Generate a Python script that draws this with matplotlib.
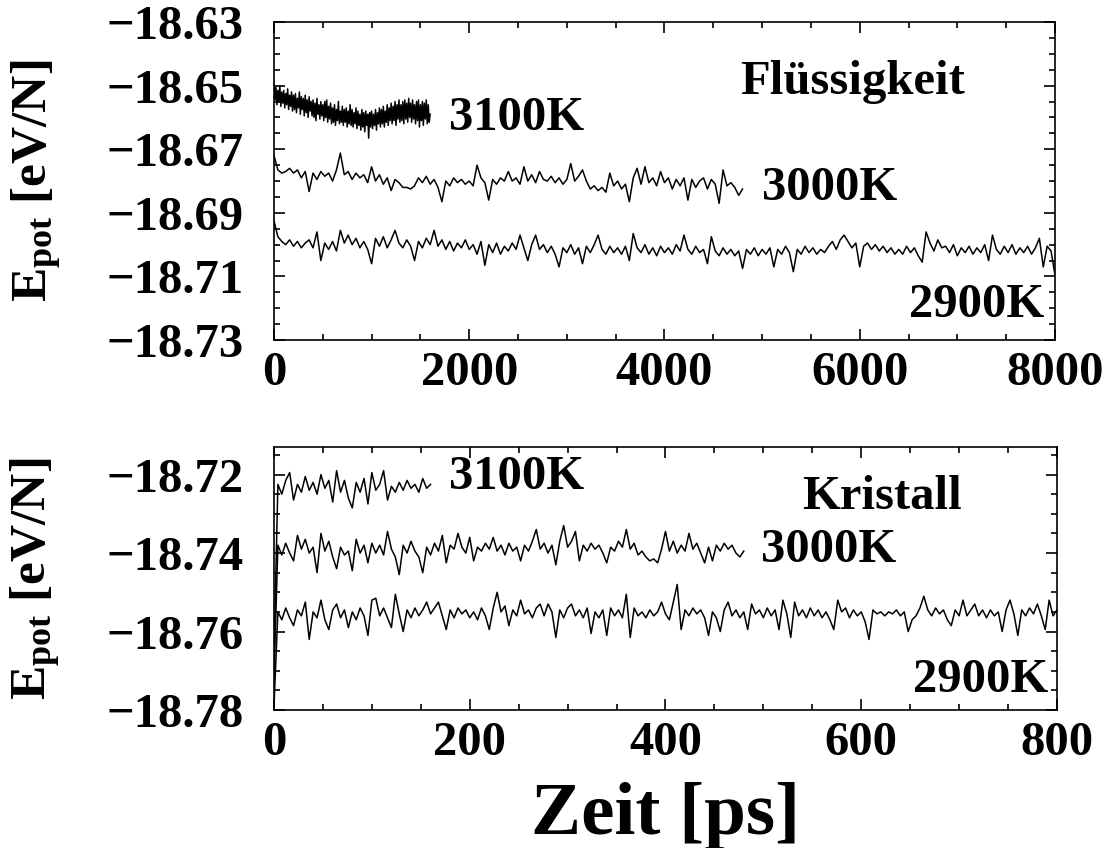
import numpy as np
import matplotlib.pyplot as plt
from matplotlib.ticker import MultipleLocator

# potential energy per atom vs. simulation time, liquid (top) and crystal (bottom)

# liquid, 3100K: sampled every 10 ps
liq_3100 = [
    -18.6490, -18.6545, -18.6505, -18.6560, -18.6515, -18.6550, -18.6500, -18.6565, -18.6520, -18.6555,
    -18.6515, -18.6570, -18.6525, -18.6560, -18.6510, -18.6575, -18.6530, -18.6565, -18.6520, -18.6580,
    -18.6530, -18.6575, -18.6525, -18.6585, -18.6540, -18.6570, -18.6520, -18.6590, -18.6535, -18.6575,
    -18.6540, -18.6595, -18.6530, -18.6585, -18.6545, -18.6600, -18.6535, -18.6580, -18.6550, -18.6595,
    -18.6545, -18.6600, -18.6555, -18.6610, -18.6540, -18.6590, -18.6560, -18.6605, -18.6550, -18.6595,
    -18.6560, -18.6610, -18.6550, -18.6600, -18.6545, -18.6615, -18.6565, -18.6605, -18.6555, -18.6620,
    -18.6570, -18.6615, -18.6560, -18.6625, -18.6575, -18.6610, -18.6550, -18.6620, -18.6580, -18.6615,
    -18.6565, -18.6625, -18.6575, -18.6615, -18.6570, -18.6630, -18.6580, -18.6620, -18.6560, -18.6625,
    -18.6575, -18.6630, -18.6585, -18.6620, -18.6570, -18.6635, -18.6580, -18.6625, -18.6590, -18.6640,
    -18.6575, -18.6630, -18.6585, -18.6645, -18.6580, -18.6625, -18.6590, -18.6665, -18.6585, -18.6630,
    -18.6580, -18.6635, -18.6590, -18.6625, -18.6575, -18.6640, -18.6585, -18.6620, -18.6570, -18.6630,
    -18.6575, -18.6620, -18.6565, -18.6630, -18.6580, -18.6615, -18.6560, -18.6625, -18.6570, -18.6610,
    -18.6555, -18.6620, -18.6565, -18.6610, -18.6550, -18.6625, -18.6560, -18.6605, -18.6545, -18.6615,
    -18.6560, -18.6610, -18.6550, -18.6620, -18.6545, -18.6605, -18.6555, -18.6615, -18.6540, -18.6600,
    -18.6555, -18.6615, -18.6545, -18.6605, -18.6560, -18.6620, -18.6550, -18.6610, -18.6545, -18.6630,
    -18.6560, -18.6610, -18.6550, -18.6625, -18.6555, -18.6605, -18.6545, -18.6620, -18.6560, -18.6615,
    -18.6590,
]

# liquid, 3000K: sampled every 40 ps
liq_3000 = [
    -18.6720, -18.6765, -18.6775, -18.6770, -18.6760, -18.6775, -18.6765, -18.6790, -18.6770, -18.6833,
    -18.6775, -18.6795, -18.6770, -18.6785, -18.6775, -18.6800, -18.6765, -18.6712, -18.6780, -18.6770,
    -18.6795, -18.6775, -18.6790, -18.6780, -18.6805, -18.6755, -18.6800, -18.6780, -18.6810, -18.6790,
    -18.6830, -18.6795, -18.6805, -18.6820, -18.6820, -18.6825, -18.6815, -18.6790, -18.6805, -18.6785,
    -18.6810, -18.6795, -18.6820, -18.6865, -18.6800, -18.6815, -18.6790, -18.6805, -18.6795, -18.6810,
    -18.6800, -18.6815, -18.6750, -18.6790, -18.6805, -18.6860, -18.6795, -18.6810, -18.6790, -18.6800,
    -18.6770, -18.6800, -18.6790, -18.6810, -18.6755, -18.6800, -18.6780, -18.6805, -18.6770, -18.6795,
    -18.6800, -18.6785, -18.6805, -18.6790, -18.6810, -18.6795, -18.6745, -18.6800, -18.6785, -18.6765,
    -18.6800, -18.6825, -18.6815, -18.6830, -18.6820, -18.6835, -18.6775, -18.6815, -18.6800, -18.6825,
    -18.6810, -18.6865, -18.6790, -18.6760, -18.6810, -18.6755, -18.6805, -18.6790, -18.6815, -18.6770,
    -18.6805, -18.6790, -18.6825, -18.6795, -18.6815, -18.6790, -18.6860, -18.6795, -18.6820, -18.6800,
    -18.6790, -18.6825, -18.6795, -18.6810, -18.6870, -18.6765, -18.6815, -18.6805, -18.6820, -18.6845,
    -18.6825,
]

# liquid, 2900K: sampled every 40 ps
liq_2900 = [
    -18.6925, -18.6975, -18.6990, -18.7000, -18.6985, -18.7005, -18.6990, -18.7010, -18.6995, -18.6985,
    -18.7010, -18.6960, -18.7050, -18.6995, -18.7015, -18.6990, -18.7020, -18.6955, -18.6995, -18.6970,
    -18.7000, -18.6980, -18.7010, -18.6990, -18.7015, -18.7060, -18.6980, -18.7005, -18.6975, -18.7010,
    -18.6985, -18.6955, -18.6995, -18.7010, -18.6985, -18.7005, -18.7050, -18.6990, -18.7010, -18.6980,
    -18.7000, -18.6955, -18.7005, -18.6985, -18.7015, -18.6990, -18.7020, -18.6995, -18.7010, -18.6985,
    -18.7015, -18.7000, -18.7030, -18.6990, -18.7065, -18.7000, -18.7025, -18.6995, -18.7030, -18.7005,
    -18.7020, -18.6995, -18.7015, -18.6970, -18.7010, -18.7050, -18.7000, -18.6970, -18.7015, -18.7000,
    -18.7025, -18.7005, -18.7030, -18.7070, -18.7010, -18.7025, -18.7000, -18.7030, -18.7010, -18.7060,
    -18.7005, -18.7025, -18.7000, -18.6970, -18.7015, -18.7030, -18.7005, -18.7025, -18.7010, -18.7030,
    -18.7005, -18.7050, -18.6965, -18.7010, -18.7025, -18.7000, -18.7030, -18.7010, -18.7035, -18.7005,
    -18.7025, -18.7010, -18.7030, -18.7000, -18.7020, -18.6970, -18.7015, -18.7030, -18.7005, -18.7025,
    -18.7015, -18.7060, -18.6975, -18.7020, -18.7035, -18.7010, -18.7030, -18.7015, -18.7035, -18.7020,
    -18.7075, -18.7015, -18.7030, -18.7010, -18.7035, -18.7015, -18.7030, -18.7010, -18.7070, -18.7015,
    -18.7030, -18.7005, -18.7025, -18.7085, -18.7015, -18.7030, -18.7005, -18.7025, -18.7010, -18.7030,
    -18.7015, -18.7025, -18.7005, -18.6990, -18.7015, -18.6985, -18.6970, -18.6990, -18.7010, -18.6995,
    -18.7070, -18.7005, -18.6995, -18.7015, -18.7000, -18.7020, -18.7005, -18.7025, -18.7010, -18.7030,
    -18.7015, -18.7030, -18.7005, -18.7025, -18.7010, -18.7035, -18.7055, -18.6960, -18.6995, -18.7020,
    -18.6985, -18.7010, -18.7005, -18.7025, -18.7000, -18.7035, -18.7010, -18.7025, -18.7005, -18.7030,
    -18.7010, -18.7025, -18.7000, -18.7050, -18.6970, -18.7015, -18.7030, -18.7005, -18.7025, -18.7000,
    -18.7030, -18.7010, -18.7025, -18.7005, -18.7030, -18.7010, -18.6980, -18.7070, -18.7005, -18.7020,
    -18.7095,
]

# crystal, 3100K: sampled every 4 ps
cry_3100 = [
    -18.7660, -18.7225, -18.7250, -18.7215, -18.7195, -18.7265, -18.7225, -18.7245, -18.7205, -18.7240,
    -18.7220, -18.7250, -18.7200, -18.7235, -18.7215, -18.7270, -18.7190, -18.7245, -18.7215, -18.7260,
    -18.7285, -18.7220, -18.7245, -18.7210, -18.7275, -18.7195, -18.7240, -18.7225, -18.7190, -18.7265,
    -18.7230, -18.7245, -18.7220, -18.7240, -18.7215, -18.7235, -18.7225, -18.7245, -18.7210, -18.7235,
    -18.7225,
]

# crystal, 3000K: sampled every 4 ps
cry_3000 = [
    -18.7720, -18.7380, -18.7405, -18.7375, -18.7400, -18.7420, -18.7355, -18.7390, -18.7365, -18.7400,
    -18.7385, -18.7450, -18.7350, -18.7395, -18.7370, -18.7410, -18.7440, -18.7385, -18.7405, -18.7395,
    -18.7445, -18.7365, -18.7400, -18.7380, -18.7425, -18.7375, -18.7400, -18.7380, -18.7405, -18.7345,
    -18.7390, -18.7410, -18.7455, -18.7380, -18.7400, -18.7370, -18.7395, -18.7410, -18.7450, -18.7385,
    -18.7405, -18.7375, -18.7395, -18.7355, -18.7425, -18.7380, -18.7390, -18.7350, -18.7385, -18.7400,
    -18.7360, -18.7420, -18.7385, -18.7395, -18.7375, -18.7390, -18.7360, -18.7395, -18.7380, -18.7405,
    -18.7375, -18.7395, -18.7385, -18.7420, -18.7380, -18.7395, -18.7370, -18.7340, -18.7390, -18.7375,
    -18.7400, -18.7380, -18.7430, -18.7370, -18.7330, -18.7385, -18.7370, -18.7345, -18.7420, -18.7380,
    -18.7395, -18.7375, -18.7390, -18.7380, -18.7400, -18.7425, -18.7385, -18.7395, -18.7370, -18.7385,
    -18.7340, -18.7390, -18.7375, -18.7405, -18.7395, -18.7410, -18.7420, -18.7415, -18.7425, -18.7390,
    -18.7345, -18.7395, -18.7370, -18.7400, -18.7380, -18.7395, -18.7350, -18.7390, -18.7375, -18.7400,
    -18.7425, -18.7385, -18.7420, -18.7380, -18.7395, -18.7375, -18.7390, -18.7380, -18.7400, -18.7410,
    -18.7395,
]

# crystal, 2900K: sampled every 4 ps
cry_2900 = [
    -18.7790, -18.7550, -18.7570, -18.7540, -18.7565, -18.7585, -18.7545, -18.7560, -18.7525, -18.7620,
    -18.7550, -18.7565, -18.7520, -18.7570, -18.7595, -18.7545, -18.7530, -18.7565, -18.7545, -18.7590,
    -18.7550, -18.7570, -18.7540, -18.7560, -18.7610, -18.7520, -18.7515, -18.7560, -18.7540, -18.7565,
    -18.7590, -18.7505, -18.7555, -18.7600, -18.7545, -18.7565, -18.7540, -18.7560, -18.7545, -18.7525,
    -18.7555, -18.7540, -18.7525, -18.7560, -18.7595, -18.7545, -18.7565, -18.7540, -18.7555, -18.7545,
    -18.7565, -18.7550, -18.7570, -18.7540, -18.7560, -18.7595, -18.7540, -18.7500, -18.7550, -18.7535,
    -18.7585, -18.7545, -18.7560, -18.7520, -18.7555, -18.7545, -18.7565, -18.7540, -18.7530, -18.7560,
    -18.7530, -18.7550, -18.7615, -18.7545, -18.7565, -18.7540, -18.7530, -18.7560, -18.7545, -18.7565,
    -18.7540, -18.7605, -18.7550, -18.7565, -18.7545, -18.7610, -18.7540, -18.7560, -18.7545, -18.7565,
    -18.7505, -18.7615, -18.7540, -18.7560, -18.7550, -18.7565, -18.7545, -18.7560, -18.7550, -18.7525,
    -18.7555, -18.7570, -18.7525, -18.7480, -18.7595, -18.7545, -18.7560, -18.7540, -18.7555, -18.7545,
    -18.7565, -18.7610, -18.7550, -18.7565, -18.7600, -18.7545, -18.7525, -18.7560, -18.7545, -18.7565,
    -18.7550, -18.7595, -18.7530, -18.7555, -18.7545, -18.7565, -18.7540, -18.7560, -18.7545, -18.7595,
    -18.7520, -18.7555, -18.7615, -18.7525, -18.7560, -18.7545, -18.7565, -18.7540, -18.7560, -18.7545,
    -18.7565, -18.7550, -18.7570, -18.7595, -18.7520, -18.7550, -18.7540, -18.7565, -18.7545, -18.7560,
    -18.7550, -18.7575, -18.7620, -18.7545, -18.7555, -18.7550, -18.7560, -18.7550, -18.7555, -18.7545,
    -18.7560, -18.7550, -18.7600, -18.7570, -18.7560, -18.7540, -18.7510, -18.7545, -18.7560, -18.7540,
    -18.7555, -18.7545, -18.7570, -18.7585, -18.7545, -18.7560, -18.7520, -18.7560, -18.7545, -18.7530,
    -18.7560, -18.7545, -18.7565, -18.7545, -18.7560, -18.7550, -18.7600, -18.7545, -18.7520, -18.7555,
    -18.7610, -18.7545, -18.7560, -18.7540, -18.7555, -18.7530, -18.7560, -18.7595, -18.7520, -18.7560,
    -18.7545,
]

plt.rcParams['font.family'] = 'Liberation Serif'
plt.rcParams['font.weight'] = 'bold'
plt.rcParams['mathtext.fontset'] = 'custom'
plt.rcParams['mathtext.rm'] = 'Liberation Serif:bold'
plt.rcParams['mathtext.bf'] = 'Liberation Serif:bold'
plt.rcParams['mathtext.it'] = 'Liberation Serif:bold'

fs = 35
fig = plt.figure(figsize=(11.07, 8.48), dpi=100)
ax1 = fig.add_axes([0.2475, 0.599, 0.7055, 0.375])
ax2 = fig.add_axes([0.2475, 0.1627, 0.7073, 0.3101])

lw = 1.1
ax1.plot(np.arange(len(liq_3100)) * 10, liq_3100, color='black', lw=lw)
ax1.plot(np.arange(len(liq_3000)) * 40, liq_3000, color='black', lw=lw)
ax1.plot(np.arange(len(liq_2900)) * 40, liq_2900, color='black', lw=lw)

ax2.plot(np.arange(len(cry_3100)) * 4, cry_3100, color='black', lw=lw)
ax2.plot(np.arange(len(cry_3000)) * 4, cry_3000, color='black', lw=lw)
ax2.plot(np.arange(len(cry_2900)) * 4, cry_2900, color='black', lw=lw)

fmt = lambda v, p: f'{v:.2f}'.replace('-', '\u2212')

ax1.set_xlim(0, 8000)
ax1.set_ylim(-18.73, -18.63)
ax1.xaxis.set_major_locator(MultipleLocator(2000))
ax1.xaxis.set_minor_locator(MultipleLocator(500))
ax1.set_yticks([-18.73, -18.71, -18.69, -18.67, -18.65, -18.63])
ax1.yaxis.set_minor_locator(MultipleLocator(0.005))
ax1.yaxis.set_major_formatter(fmt)

ax2.set_xlim(0, 800)
ax2.set_ylim(-18.78, -18.713)
ax2.xaxis.set_major_locator(MultipleLocator(200))
ax2.xaxis.set_minor_locator(MultipleLocator(50))
ax2.set_yticks([-18.78, -18.76, -18.74, -18.72])
ax2.yaxis.set_minor_locator(MultipleLocator(0.005))
ax2.yaxis.set_major_formatter(fmt)

for ax in (ax1, ax2):
    ax.tick_params(which='both', direction='in', top=True, right=True, width=1.2)
    ax.tick_params(which='major', length=8)
    ax.tick_params(which='minor', length=4)
    ax.tick_params(axis='x', labelsize=fs, pad=8)
    ax.tick_params(axis='y', labelsize=fs, pad=22)
    for s in ax.spines.values():
        s.set_linewidth(1.2)
    ax.set_ylabel(r'E$_{\mathbf{pot}}$ [eV/N]', fontsize=37, fontweight='bold')
    ax.yaxis.set_label_coords(-0.269, 0.5)

ax2.set_xlabel('Zeit [ps]', fontsize=54, fontweight='bold', labelpad=12)

kw = dict(fontsize=fs, fontweight='bold', ha='center', va='center')
ax1.text(0.741, 0.811, 'Flüssigkeit', transform=ax1.transAxes, **kw)
ax1.text(0.311, 0.698, '3100K', transform=ax1.transAxes, **kw)
ax1.text(0.711, 0.478, '3000K', transform=ax1.transAxes, **kw)
ax1.text(0.900, 0.110, '2900K', transform=ax1.transAxes, **kw)

ax2.text(0.777, 0.810, 'Kristall', transform=ax2.transAxes, **kw)
ax2.text(0.310, 0.886, '3100K', transform=ax2.transAxes, **kw)
ax2.text(0.709, 0.608, '3000K', transform=ax2.transAxes, **kw)
ax2.text(0.902, 0.114, '2900K', transform=ax2.transAxes, **kw)

fig.savefig('out.png', dpi=100)
